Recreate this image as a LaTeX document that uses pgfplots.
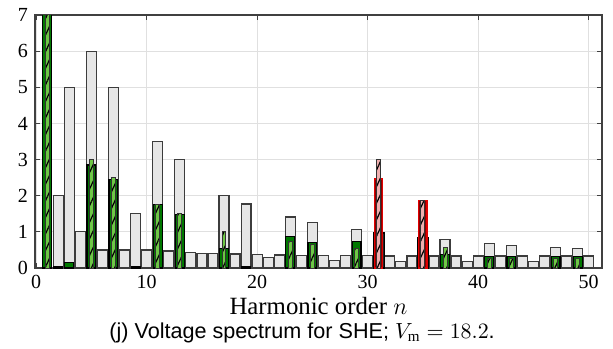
\documentclass[border=0pt]{standalone}
\usepackage{fontspec}
\setmainfont{Liberation Serif}
\setsansfont{Liberation Sans}
\usepackage{pgfplots}
\pgfplotsset{compat=1.18}
\usetikzlibrary{patterns,patterns.meta}
\definecolor{gfill}{RGB}{230,230,230}
\definecolor{gedge}{RGB}{60,60,60}
\definecolor{dgreen}{RGB}{0,120,0}
\definecolor{lgreen}{RGB}{110,200,70}
\definecolor{dred}{RGB}{135,0,0}
\definecolor{redge}{RGB}{225,0,0}
\definecolor{pinkh}{RGB}{240,175,175}
\begin{document}
\begin{tikzpicture}
\path[use as bounding box] (-17.5pt,-40pt) rectangle (289pt,134pt);
\begin{axis}[
  scale only axis, width=283.5pt, height=126.5pt,
  at={(0,0)}, anchor=south west,
  xmin=-0.1, xmax=51.2, ymin=0, ymax=7,
  xtick={0,10,...,50}, ytick={0,1,...,7},
  grid=major, major grid style={draw=black!12, line width=0.6pt},
  tick align=inside, tick pos=both, major tick length=2.5pt,
  axis line style={draw=black!75, line width=0.6pt},
  every tick/.style={draw=black!75, line width=0.6pt},
  tick label style={font=\fontsize{10}{12}\selectfont},
  /pgf/number format/assume math mode=true,
  xlabel={Harmonic order $n$},
  xlabel style={font=\fontsize{12.4}{14}\selectfont, at={(axis description cs:0.5,0)}, anchor=center, yshift=-19pt},
]
% gray spectrum
\addplot[ybar, bar width=0.9, bar shift=0pt, fill=gfill, draw=gedge, line width=0.6pt] coordinates {
(2,2.0) (3,5.0) (4,1.0) (5,6.0) (6,0.5) (7,5.0) (8,0.5) (9,1.5) (10,0.5)
(11,3.5) (12,0.47) (13,3.0) (14,0.44) (15,0.41) (16,0.41) (17,2.0) (18,0.39) (19,1.77) (20,0.37)
(21,0.30) (22,0.36) (23,1.41) (24,0.35) (25,1.27) (26,0.35) (27,0.21) (28,0.34) (29,1.06) (30,0.34)
(32,0.33) (33,0.19) (34,0.33) (36,0.33) (37,0.79) (38,0.33) (39,0.19) (40,0.33)
(41,0.68) (42,0.33) (43,0.63) (44,0.33) (45,0.19) (46,0.33) (47,0.56) (48,0.33) (49,0.53) (50,0.33)
};
% dark bars at 31, 35
\addplot[ybar, bar width=1.0, bar shift=0pt, fill=black!85, draw=black, line width=0.6pt] coordinates {
(31,0.97) (35,0.83)
};
% dark green
\addplot[ybar, bar width=0.8, bar shift=0pt, fill=dgreen, draw=black, line width=0.6pt] coordinates {
(1,18.2) (2,0.05) (3,0.15) (5,2.85) (7,2.44) (9,0.04) (11,1.75) (13,1.49) (17,0.53) (19,0.05)
(23,0.88) (25,0.71) (29,0.73) (37,0.38) (41,0.32) (43,0.32) (47,0.32) (49,0.32)
};
% dark red
\addplot[ybar, bar width=0.75, bar shift=0pt, fill=dred, draw=redge, line width=0.6pt] coordinates {
(31,2.46) (35,1.86)
};
% hatched light green
\addplot[ybar, bar width=0.36, bar shift=0pt, fill=lgreen, draw=black!80, line width=0.5pt,
  postaction={pattern={Lines[angle=65,distance=3.5pt,line width=0.6pt]}, pattern color=black}] coordinates {
(1,18.2) (5,3.0) (7,2.5) (11,1.76) (13,1.5) (17,1.0) (23,0.73) (25,0.66) (29,0.53)
(37,0.56) (41,0.26) (43,0.26) (47,0.26) (49,0.26)
};
% hatched pink
\addplot[ybar, bar width=0.36, bar shift=0pt, fill=pinkh, draw=black!80, line width=0.5pt,
  postaction={pattern={Lines[angle=65,distance=3.5pt,line width=0.6pt]}, pattern color=black}] coordinates {
(31,3.0) (35,1.88)
};
\coordinate (capt) at (axis description cs:0.471,0);
\end{axis}
\node[font=\fontsize{10.8}{13}\sffamily, anchor=center] at ([yshift=-32.5pt]capt) {(j) Voltage spectrum for SHE; $V_\mathrm{m} = 18.2$.};
\end{tikzpicture}
\end{document}
